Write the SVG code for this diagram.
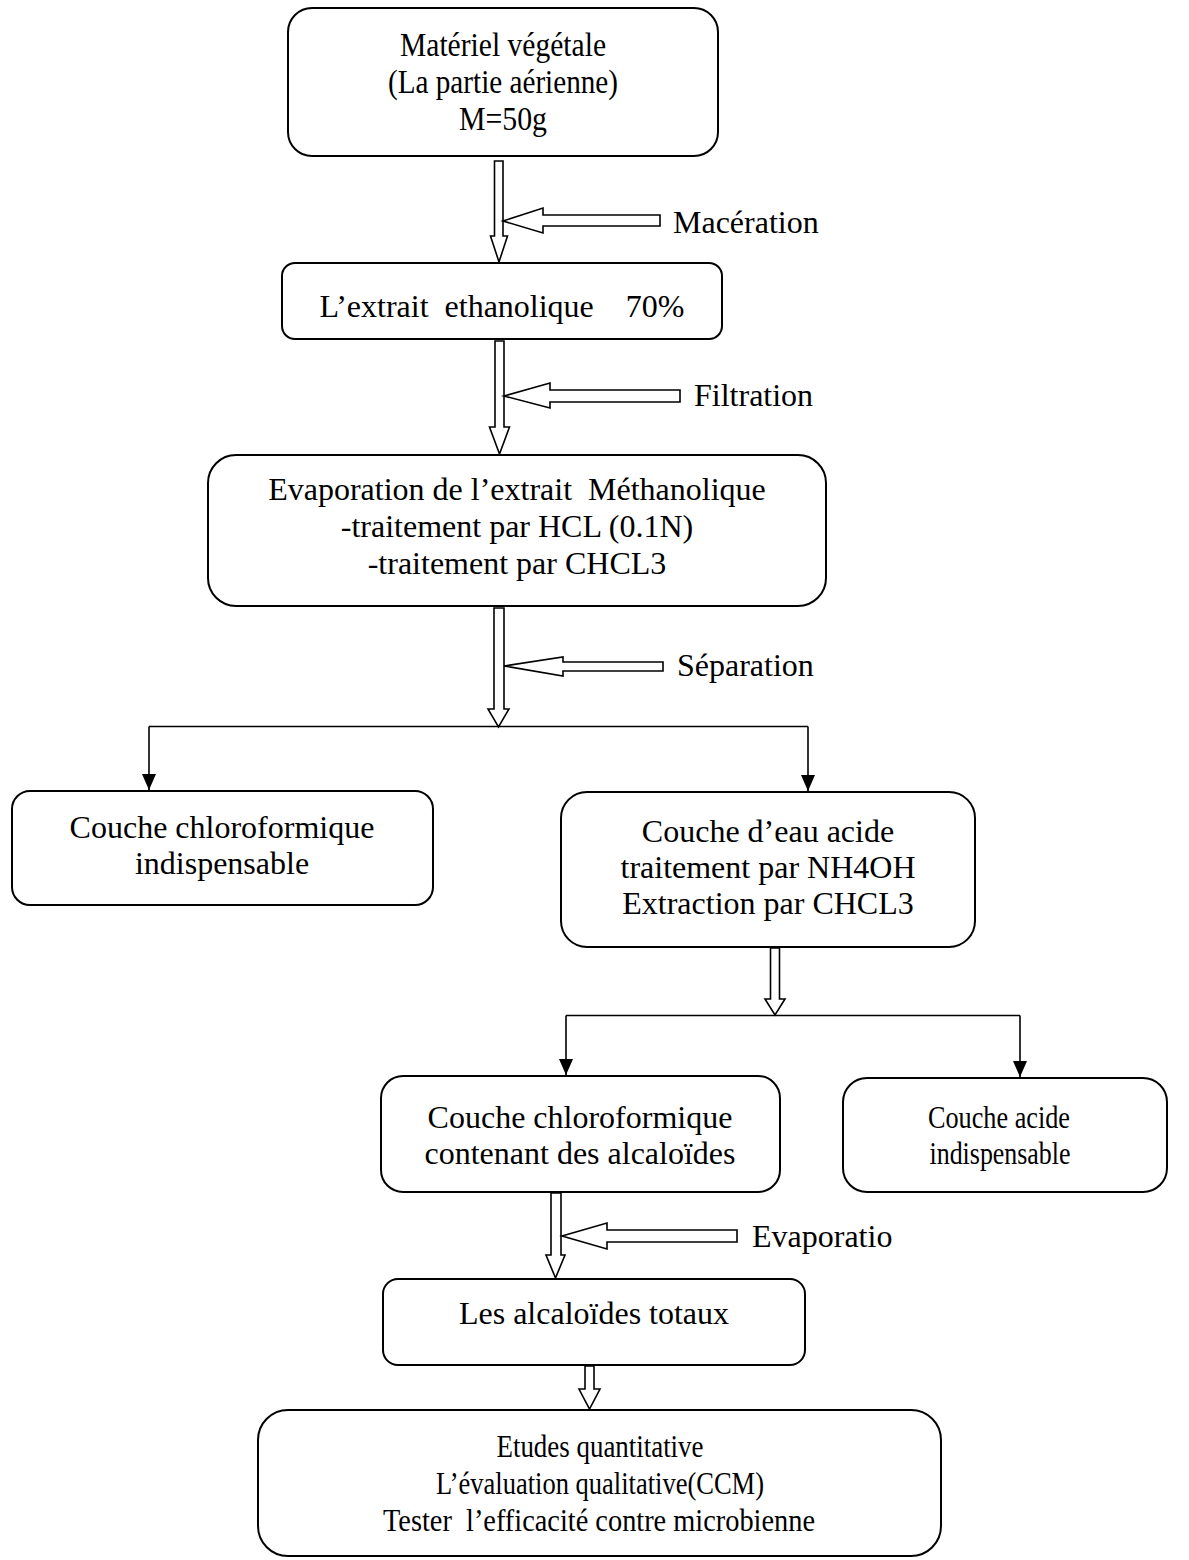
<svg xmlns="http://www.w3.org/2000/svg" width="1189" height="1560" viewBox="0 0 1189 1560">
  <style>
    .box { fill: #ffffff; stroke: #000000; stroke-width: 2; }
    .t { font-family: "Liberation Serif", "Times New Roman", serif; font-size: 32px; fill: #000000; text-anchor: middle; }
    .top { font-size: 33px; }
    .lbl { font-family: "Liberation Serif", "Times New Roman", serif; font-size: 32px; fill: #000000; }
    .hollow { fill: #ffffff; stroke: #000000; stroke-width: 1.6; stroke-linejoin: miter; }
    .line { fill: none; stroke: #000000; stroke-width: 1.6; }
  </style>
  <defs>
    <!-- solid head, drawn pointing along +x so orient="auto" follows the line -->
    <marker id="solid" viewBox="0 0 16 14" refX="16" refY="7" markerWidth="16" markerHeight="14" markerUnits="userSpaceOnUse" orient="auto">
      <path d="M0,0 L16,7 L0,14 Z" fill="#000000"/>
    </marker>
  </defs>

  <rect width="1189" height="1560" fill="#ffffff"/>

  <!-- connectors -->
  <g id="connectors">
    <!-- hollow down arrow: plant material -> ethanolic extract -->
    <path class="hollow" d="M494.5,161 L494.5,236 L490.5,236 L499,262 L507.5,236 L503,236 L503,161 Z"/>
    <path class="hollow" d="M660,215 L543,215 L543,208 L503,221 L543,233 L543,226 L660,226 Z"/>
    <text class="lbl" x="673" y="233">Macération</text>

    <!-- hollow down arrow: extract -> evaporation -->
    <path class="hollow" d="M495,341 L495,427 L489.5,427 L499.5,454 L509.5,427 L504,427 L504,341 Z"/>
    <path class="hollow" d="M680,390 L550,390 L550,383 L504,396 L550,408 L550,402 L680,402 Z"/>
    <text class="lbl" x="694" y="406">Filtration</text>

    <!-- hollow down arrow: evaporation -> separation -->
    <path class="hollow" d="M494,608 L494,709 L488,709 L498.5,727 L509,709 L504,709 L504,608 Z"/>
    <path class="hollow" d="M663,662 L563,662 L563,657 L504,666 L563,676 L563,671 L663,671 Z"/>
    <text class="lbl" x="677" y="676">Séparation</text>

    <!-- split after separation -->
    <path class="line" d="M149,726.5 L808,726.5"/>
    <path class="line" d="M149,726.5 L149,790" marker-end="url(#solid)"/>
    <path class="line" d="M808,726.5 L808,791" marker-end="url(#solid)"/>

    <!-- hollow down arrow under acid water layer -->
    <path class="hollow" d="M770.5,948 L770.5,999 L765,999 L775,1015 L785,999 L779.5,999 L779.5,948 Z"/>

    <!-- split after ammonia treatment -->
    <path class="line" d="M566,1015.5 L1020,1015.5"/>
    <path class="line" d="M566,1015.5 L566,1075" marker-end="url(#solid)"/>
    <path class="line" d="M1020,1015.5 L1020,1077" marker-end="url(#solid)"/>

    <!-- hollow down arrow: chloroform layer -> total alkaloids -->
    <path class="hollow" d="M551,1193 L551,1255 L546,1255 L555.5,1278 L565,1255 L561,1255 L561,1193 Z"/>
    <path class="hollow" d="M737,1230 L607,1230 L607,1223 L562,1236 L607,1249 L607,1242 L737,1242 Z"/>
    <text class="lbl" x="752" y="1247">Evaporatio</text>

    <!-- hollow down arrow: total alkaloids -> studies -->
    <path class="hollow" d="M585,1366 L585,1389 L579,1389 L589.5,1409 L600,1389 L594,1389 L594,1366 Z"/>
  </g>

  <g id="node-materiel">
    <rect class="box" x="288" y="8" width="430" height="148" rx="24" ry="24"/>
    <text class="t top" x="503" y="56" textLength="206" lengthAdjust="spacingAndGlyphs">Matériel végétale</text>
    <text class="t top" x="503" y="93" textLength="230" lengthAdjust="spacingAndGlyphs">(La partie aérienne)</text>
    <text class="t top" x="503" y="130" textLength="88" lengthAdjust="spacingAndGlyphs">M=50g</text>
  </g>

  <g id="node-extrait">
    <rect class="box" x="282" y="263" width="440" height="76" rx="13" ry="13"/>
    <text class="t" x="502" y="317" xml:space="preserve">L’extrait  ethanolique    70%</text>
  </g>

  <g id="node-evaporation">
    <rect class="box" x="208" y="455" width="618" height="151" rx="28" ry="28"/>
    <text class="t" x="517" y="500" xml:space="preserve">Evaporation de l’extrait  Méthanolique</text>
    <text class="t" x="517" y="537">-traitement par HCL (0.1N)</text>
    <text class="t" x="517" y="574">-traitement par CHCL3</text>
  </g>

  <g id="node-chloro-indisp">
    <rect class="box" x="12" y="791" width="421" height="114" rx="18" ry="18"/>
    <text class="t" x="222" y="838">Couche chloroformique</text>
    <text class="t" x="222" y="874">indispensable</text>
  </g>

  <g id="node-eau-acide">
    <rect class="box" x="561" y="792" width="414" height="155" rx="26" ry="26"/>
    <text class="t" x="768" y="842">Couche d’eau acide</text>
    <text class="t" x="768" y="878">traitement par NH4OH</text>
    <text class="t" x="768" y="914">Extraction par CHCL3</text>
  </g>

  <g id="node-chloro-alcaloides">
    <rect class="box" x="381" y="1076" width="399" height="116" rx="22" ry="22"/>
    <text class="t" x="580" y="1128">Couche chloroformique</text>
    <text class="t" x="580" y="1164">contenant des alcaloïdes</text>
  </g>

  <g id="node-acide-indisp">
    <rect class="box" x="843" y="1078" width="324" height="114" rx="24" ry="24"/>
    <text class="t" x="999" y="1128" textLength="142" lengthAdjust="spacingAndGlyphs">Couche acide</text>
    <text class="t" x="1000" y="1164" textLength="141" lengthAdjust="spacingAndGlyphs">indispensable</text>
  </g>

  <g id="node-alcaloides-totaux">
    <rect class="box" x="383" y="1279" width="422" height="86" rx="15" ry="15"/>
    <text class="t" x="594" y="1324">Les alcaloïdes totaux</text>
  </g>

  <g id="node-etudes">
    <rect class="box" x="258" y="1410" width="683" height="146" rx="30" ry="30"/>
    <text class="t" x="600" y="1457" textLength="207" lengthAdjust="spacingAndGlyphs">Etudes quantitative</text>
    <text class="t" x="600" y="1494" textLength="328" lengthAdjust="spacingAndGlyphs">L’évaluation qualitative(CCM)</text>
    <text class="t" x="599" y="1531" xml:space="preserve" textLength="432" lengthAdjust="spacingAndGlyphs">Tester  l’efficacité contre microbienne</text>
  </g>
</svg>
